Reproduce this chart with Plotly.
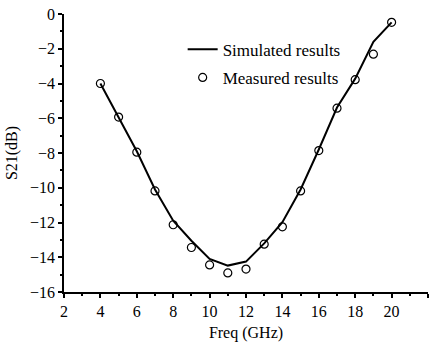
import plotly.graph_objects as go

freq = [4, 5, 6, 7, 8, 9, 10, 11, 12, 13, 14, 15, 16, 17, 18, 19, 20]
simulated = [-4.0, -5.95, -7.9, -10.1, -11.9, -13.05, -14.1, -14.48, -14.25, -13.2,
             -11.98, -10.1, -7.8, -5.38, -3.72, -1.6, -0.48]
measured = [-4.0, -5.93, -7.95, -10.18, -12.13, -13.44, -14.44, -14.9, -14.68, -13.25,
            -12.25, -10.18, -7.86, -5.42, -3.78, -2.31, -0.48]

FONT = "Liberation Serif, Times New Roman, serif"

fig = go.Figure()
fig.add_trace(go.Scatter(x=freq, y=simulated, mode="lines", name="Simulated results",
                         legendgroup="a",
                         line=dict(color="black", width=2)))
fig.add_trace(go.Scatter(x=freq, y=measured, mode="markers", name="Measured results",
                         legendgroup="b",
                         marker=dict(symbol="circle-open", size=8, color="black",
                                     line=dict(width=1.2, color="black"))))

axis_common = dict(showgrid=False, zeroline=False, showline=True, linecolor="black",
                   linewidth=1.5, ticks="outside", ticklen=4, tickwidth=1.5,
                   tickcolor="black", mirror=False,
                   tickfont=dict(family=FONT, size=16, color="black"))

fig.update_xaxes(range=[2, 22], dtick=2, tick0=2,
                 minor=dict(dtick=1, ticks="outside", ticklen=2, tickwidth=1.5, tickcolor="black"),
                 title=dict(text="Freq (GHz)", font=dict(family=FONT, size=16, color="black"), standoff=8),
                 **axis_common)
fig.update_yaxes(range=[-16, 0], dtick=2, tick0=0,
                 minor=dict(dtick=1, ticks="outside", ticklen=2, tickwidth=1.5, tickcolor="black"),
                 title=dict(text="S21(dB)", font=dict(family=FONT, size=16, color="black"), standoff=8),
                 **axis_common)

fig.update_layout(
    width=429, height=346,
    margin=dict(l=64, r=1, t=14, b=54, autoexpand=False),
    plot_bgcolor="white", paper_bgcolor="white",
    font=dict(family=FONT, size=16, color="black"),
    legend=dict(x=0.326, y=0.936, xanchor="left", yanchor="top",
                bgcolor="rgba(0,0,0,0)", borderwidth=0,
                tracegroupgap=3, traceorder="grouped",
                font=dict(family=FONT, size=17, color="black")),
    showlegend=True,
)

fig.write_html("out.html")
